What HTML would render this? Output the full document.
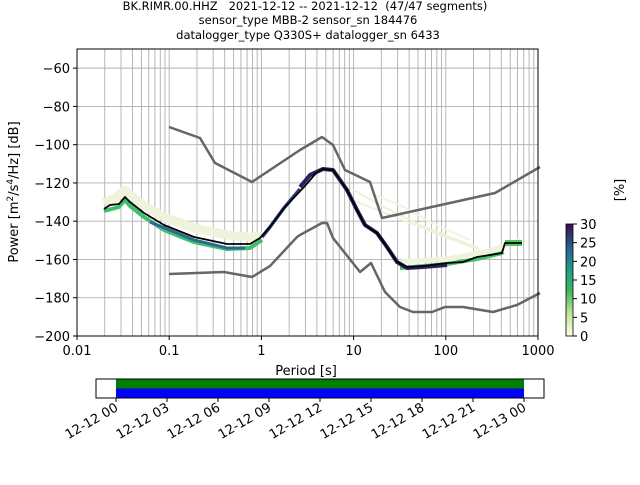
<!DOCTYPE html>
<html><head><meta charset="utf-8"><style>
body{margin:0;background:#fff;width:640px;height:480px;overflow:hidden}
svg{font-family:"DejaVu Sans","Liberation Sans",sans-serif}
</style></head><body>
<svg id="s" width="640" height="480" xmlns="http://www.w3.org/2000/svg">
<text x="305" y="10" font-size="11.5" text-anchor="middle" xml:space="preserve">BK.RIMR.00.HHZ   2021-12-12 -- 2021-12-12  (47/47 segments)</text>
<text x="308" y="24" font-size="11.5" text-anchor="middle">sensor_type MBB-2 sensor_sn 184476</text>
<text x="308" y="39" font-size="11.5" text-anchor="middle">datalogger_type Q330S+ datalogger_sn 6433</text>
<g id="grid" stroke="#b0b0b0" stroke-width="0.9"></g>
<g fill="none" stroke-linejoin="round" stroke-linecap="butt">
<polyline stroke="#f0f3dc" stroke-width="9" points="104,203 115,198 125,190 140,203 164,217 194,228 227,235 250,237 262,236"/>
<polyline stroke="#eef2d8" stroke-width="2" points="350,188 380,205 420,225 478,248"/>
<polyline stroke="#eef2d8" stroke-width="2" points="352,200 390,215 440,235 480,250"/>
<polyline stroke="#f2f5e0" stroke-width="2" points="375,195 400,205 430,222 470,240"/>
<polyline stroke="#f0f3dc" stroke-width="5" points="400,262 447,259 490,251 520,240"/>
<polyline stroke="#3fbf6e" stroke-width="4" points="104,211 119,207 125,200 130,206 144,217 164,230 194,242 227,249 250,248 262,240"/>
<polyline stroke="#2a6a8a" stroke-width="3" points="150,222 194,240 227,248 245,248"/>
<polyline stroke="#2a3f7a" stroke-width="3.5" points="262,237 270,227 284,208 300,189"/>
<polyline stroke="#45c070" stroke-width="4" points="400,268 447,264 477,259 502,253 503,252"/>
<polyline stroke="#55c060" stroke-width="6" points="505,243 522,243"/>
<polyline stroke="#2a1f5a" stroke-width="4" points="300,187 310,175 323,169 333,170 347,190 357,210 365,225 377,233 387,247 397,262 407,268 423,267 447,265"/>
<polyline stroke="#000" stroke-width="1.8" points="104,209 110,205 119,204 125,197 130,202 144,213 164,225 194,237 227,244 250,244 260,238 270,227 284,208 304,187 317,172 323,169 333,170 347,190 357,210 365,225 377,233 387,247 397,262 407,267 423,266 447,263 463,262 477,257 490,255 502,253 505,243 522,243"/>
<polyline stroke="#666" stroke-width="2.5" points="169,127 200,138 215,163 252,182 300,150 322,137 333,145 345,170 370,182 382,218 495,193 540,167"/>
<polyline stroke="#666" stroke-width="2.5" points="169,274 224,272 252,277 270,266 297,237 300,235 322,223 327,223 333,238 360,272 371,263 385,292 400,307 413,312 432,312 445,307 463,307 493,312 517,305 540,293"/>
</g>
<rect x="77" y="49" width="461" height="287" fill="none" stroke="#000" stroke-width="1"/>
<g id="ticks" font-size="13" fill="#000"></g>
<text x="306" y="375" font-size="13" text-anchor="middle">Period [s]</text>
<text transform="translate(18,192) rotate(-90)" font-size="13" text-anchor="middle">Power [m<tspan font-size="9" dy="-5">2</tspan><tspan dy="5">/s</tspan><tspan font-size="9" dy="-5">4</tspan><tspan dy="5">/Hz] [dB]</tspan></text>
<defs><linearGradient id="cg" x1="0" y1="1" x2="0" y2="0">
<stop offset="0" stop-color="#ffffe5"/><stop offset="0.2" stop-color="#c2e699"/><stop offset="0.4" stop-color="#41b65a"/><stop offset="0.6" stop-color="#1f9a8a"/><stop offset="0.8" stop-color="#2c5d8e"/><stop offset="1" stop-color="#3b0f4f"/></linearGradient></defs>
<rect x="566" y="224" width="7" height="112" fill="url(#cg)" stroke="#000" stroke-width="0.8"/>
<g font-size="13" id="cb"></g>
<text transform="translate(624,190) rotate(-90)" font-size="13" text-anchor="middle">[%]</text>
<rect x="96" y="379" width="448" height="19" fill="#fff" stroke="#000"/>
<rect x="116" y="379.5" width="408" height="9" fill="#008000"/>
<rect x="116" y="388.5" width="408" height="9" fill="#0000ff"/>
<g id="tl" font-size="13"></g>
</svg>
<script>
var ns="http://www.w3.org/2000/svg";
function el(p,t,a,txt){var e=document.createElementNS(ns,t);for(var k in a)e.setAttribute(k,a[k]);if(txt)e.textContent=txt;document.getElementById(p).appendChild(e);return e;}
function X(T){return 77+(Math.log10(T)+2)*92.2;}
for(var d=-2;d<3;d++)for(var m=1;m<10;m++){var x=X(m*Math.pow(10,d));if(x>77.5&&x<537.5)el("grid","line",{x1:x,x2:x,y1:49,y2:336});}
var labs=["0.01","0.1","1","10","100","1000"];
for(var i=0;i<6;i++){var x=77+i*92.2;el("ticks","line",{x1:x,x2:x,y1:336,y2:340,stroke:"#000"});el("ticks","text",{x:x,y:355,"text-anchor":"middle"},labs[i]);}
for(var v=-60;v>=-200;v-=20){var y=49+(-50-v)*287/150;if(v>-200)el("grid","line",{x1:77,x2:538,y1:y,y2:y});el("ticks","line",{x1:73,x2:77,y1:y,y2:y,stroke:"#000"});el("ticks","text",{x:70,y:y+5,"text-anchor":"end"},"\u2212"+(-v));}
for(var c=0;c<=30;c+=5){var y=336-c*112/30;el("cb","line",{x1:573,x2:577,y1:y,y2:y,stroke:"#000"});el("cb","text",{x:580,y:y+5},String(c));}
var tl=["12-12 00","12-12 03","12-12 06","12-12 09","12-12 12","12-12 15","12-12 18","12-12 21","12-13 00"];
for(var i=0;i<9;i++){var x=116+i*51;el("tl","line",{x1:x,x2:x,y1:398,y2:402,stroke:"#000"});el("tl","text",{transform:"translate("+(x+3)+",410) rotate(-30)","text-anchor":"end"},tl[i]);}
</script>
</body></html>
